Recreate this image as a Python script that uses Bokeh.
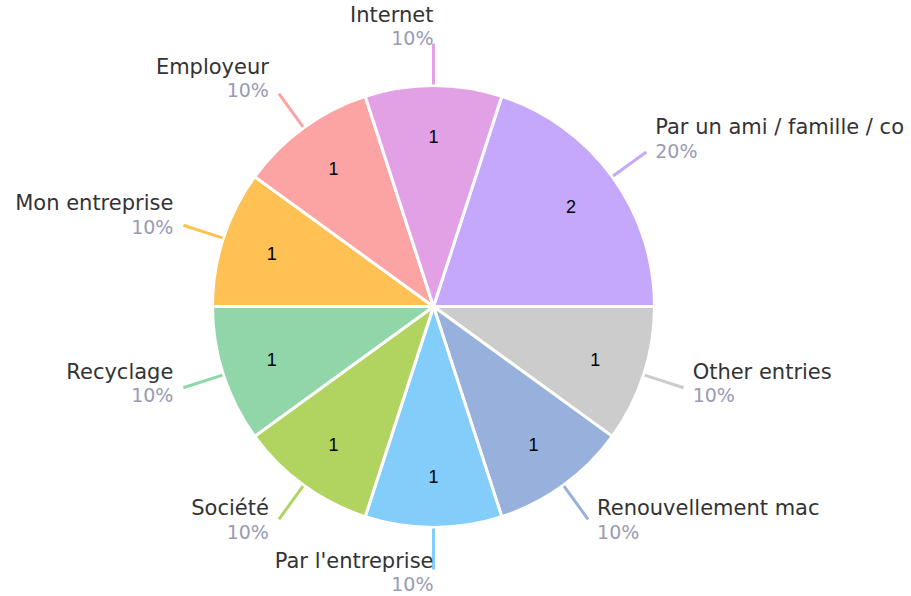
import math
from bokeh.plotting import figure
from bokeh.models import Range1d, ColumnDataSource
from bokeh.core.properties import value
from bokeh.embed import file_html
from bokeh.resources import INLINE

# ---- data ----
categories = ["Par un ami / famille / co", "Other entries", "Renouvellement mac",
              "Par l'entreprise", "Société", "Recyclage", "Mon entreprise",
              "Employeur", "Internet"]
counts = [2, 1, 1, 1, 1, 1, 1, 1, 1]
percents = ["20%", "10%", "10%", "10%", "10%", "10%", "10%", "10%", "10%"]
colors = ["#c5a8fb", "#cccccc", "#97b0dc", "#82cdf9", "#b1d35f",
          "#91d6a9", "#ffc153", "#fca3a3", "#e2a1e5"]

W, H = 911, 596
cx, cy = 433, 290          # pie centre (pixel-like data units)
R = 221
start_offset = 18.0        # degrees clockwise from top

total = sum(counts)
starts, ends, mids = [], [], []
acc = 0
for c in counts:
    t0 = start_offset + acc / total * 360
    t1 = start_offset + (acc + c) / total * 360
    acc += c
    starts.append(math.radians(90 - t1))
    ends.append(math.radians(90 - t0))
    mids.append((t0 + t1) / 2 % 360)

p = figure(width=W, height=H, x_range=Range1d(0, W), y_range=Range1d(0, H),
           output_backend="svg", toolbar_location=None, min_border=0)
p.axis.visible = False
p.grid.visible = False
p.outline_line_color = None
p.background_fill_color = "white"

src = ColumnDataSource(dict(start=starts, end=ends, color=colors))
p.wedge(x=cx, y=cy, radius=R, start_angle="start", end_angle="end",
        fill_color="color", line_color="white", line_width=3, source=src)

# inner count labels
ix, iy, itxt = [], [], []
for m, c in zip(mids, counts):
    a = math.radians(m)
    ix.append(cx + 170 * math.sin(a))
    iy.append(cy + 170 * math.cos(a))
    itxt.append(str(c))
p.text(x=ix, y=iy, text=itxt, text_align="center", text_baseline="middle",
       text_font=value("Liberation Sans"), text_font_size="18px", text_color="#000000")

# leader lines and outer labels
for m, col, name, pct in zip(mids, colors, categories, percents):
    a = math.radians(m)
    x0, y0 = cx + 222 * math.sin(a), cy + 222 * math.cos(a)
    x1, y1 = cx + 263 * math.sin(a), cy + 263 * math.cos(a)
    p.line([x0, x1], [y0, y1], line_color=col, line_width=3)
    s = math.sin(a)
    if abs(s) < 0.05:
        tx, align = x1, "right"
    elif s > 0:
        tx, align = x1 + 9, "left"
    else:
        tx, align = x1 - 10, "right"
    name_y = y1 + 19 + 10 * math.cos(a)
    p.text(x=[tx], y=[name_y], text=[name], text_align=align, text_baseline="alphabetic",
           text_font=value("DejaVu Sans"), text_font_size="21px", text_color="#333333")
    p.text(x=[tx], y=[name_y - 23.5], text=[pct], text_align=align, text_baseline="alphabetic",
           text_font=value("DejaVu Sans"), text_font_size="19px", text_color="#9a9ab4")

open("out.html", "w").write(file_html(p, INLINE))
